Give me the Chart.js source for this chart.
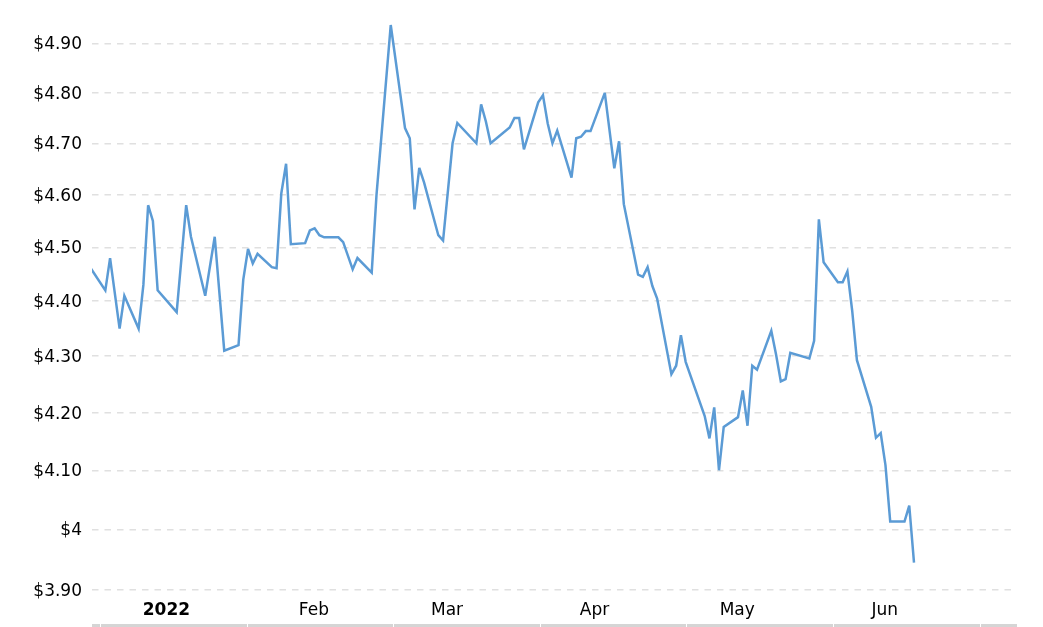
<!DOCTYPE html>
<html><head><meta charset="utf-8">
<script src="https://cdn.jsdelivr.net/npm/chart.js@4.4.1/dist/chart.umd.min.js"></script>
<style>html,body{margin:0;padding:0;background:#fff}#wrap{width:1043px;height:627px}canvas{display:block}</style>
</head><body><div id="wrap"><canvas id="c" width="1043" height="627"></canvas></div>
<script>
const dates = [
'2021-12-17','2021-12-20','2021-12-21','2021-12-23','2021-12-24','2021-12-27','2021-12-28','2021-12-29','2021-12-30','2021-12-31',
'2022-01-04','2022-01-06','2022-01-07','2022-01-10','2022-01-12','2022-01-14','2022-01-17','2022-01-18','2022-01-19','2022-01-20',
'2022-01-21','2022-01-24','2022-01-25','2022-01-26','2022-01-27','2022-01-28','2022-01-31','2022-02-01','2022-02-02','2022-02-03',
'2022-02-04','2022-02-07','2022-02-08','2022-02-10','2022-02-11','2022-02-14','2022-02-15','2022-02-18','2022-02-21','2022-02-22',
'2022-02-23','2022-02-24','2022-02-25','2022-02-28','2022-03-01','2022-03-03','2022-03-04','2022-03-08','2022-03-09','2022-03-10',
'2022-03-11','2022-03-15','2022-03-16','2022-03-17','2022-03-18','2022-03-21','2022-03-22','2022-03-23','2022-03-24','2022-03-25',
'2022-03-28','2022-03-29','2022-03-30','2022-03-31','2022-04-01','2022-04-04','2022-04-06','2022-04-07','2022-04-08','2022-04-11',
'2022-04-12','2022-04-13','2022-04-14','2022-04-15','2022-04-18','2022-04-19','2022-04-20','2022-04-21','2022-04-25','2022-04-26',
'2022-04-27','2022-04-28','2022-04-29','2022-05-02','2022-05-03','2022-05-04','2022-05-05','2022-05-06','2022-05-09','2022-05-10',
'2022-05-11','2022-05-12','2022-05-13','2022-05-17','2022-05-18','2022-05-19','2022-05-20','2022-05-23','2022-05-24','2022-05-25',
'2022-05-26','2022-05-27','2022-05-30','2022-05-31','2022-06-01','2022-06-02','2022-06-03','2022-06-06','2022-06-07','2022-06-08'
];
const prices = [
4.46,4.42,4.48,4.35,4.41,4.35,4.43,4.58,4.55,4.42,
4.38,4.58,4.52,4.41,4.52,4.31,4.32,4.44,4.497,4.47,
4.488,4.463,4.461,4.603,4.66,4.506,4.508,4.532,4.536,4.523,
4.519,4.519,4.51,4.459,4.48,4.453,4.599,4.938,4.73,4.71,
4.572,4.652,4.624,4.523,4.513,4.70,4.74,4.70,4.777,4.743,
4.70,4.731,4.75,4.75,4.688,4.781,4.795,4.739,4.70,4.725,
4.633,4.71,4.713,4.724,4.724,4.80,4.651,4.704,4.582,4.449,
4.445,4.463,4.428,4.405,4.268,4.283,4.338,4.29,4.194,4.155,
4.209,4.10,4.175,4.192,4.239,4.177,4.283,4.276,4.346,4.303,
4.255,4.259,4.306,4.296,4.328,4.553,4.472,4.435,4.435,4.455,
4.383,4.293,4.21,4.156,4.164,4.109,4.013,4.013,4.04,3.945
];
const monthTickDates = ['2022-01-01','2022-02-01','2022-03-01','2022-04-01','2022-05-01','2022-06-01'];
const monthTickLabels = ['2022','Feb','Mar','Apr','May','Jun'];
const priceTickValues = [3.9,4.0,4.1,4.2,4.3,4.4,4.5,4.6,4.7,4.8,4.9];
const priceTickLabels = ['$3.90','$4','$4.10','$4.20','$4.30','$4.40','$4.50','$4.60','$4.70','$4.80','$4.90'];

const DAY0 = Date.UTC(2022,0,1);
function dayOf(s){const p=s.split('-').map(Number);return (Date.UTC(p[0],p[1]-1,p[2])-DAY0)/864e5;}
const points = dates.map((s,i)=>({x:dayOf(s), y:prices[i]}));

const FONT = "'DejaVu Sans', Verdana, sans-serif";

const bottomBar = {
  id:'bottomBar',
  beforeDatasetsDraw(chart){ chart.ctx.miterLimit = 4; },
  afterDatasetsDraw(chart){ chart.ctx.miterLimit = 10; },
  afterDraw(chart){
    const ctx = chart.ctx, a = chart.chartArea;
    ctx.save();
    ctx.fillStyle = '#d5d5d5';
    ctx.fillRect(a.left, 624, a.right + 5 - a.left, 3);
    ctx.fillStyle = '#fff';
    for (let x = a.left + 8; x < a.right + 5; x += 146.6) ctx.fillRect(Math.round(x), 624, 1, 3);
    ctx.restore();
  }
};

new Chart(document.getElementById('c'), {
  type:'line',
  data:{datasets:[{data:points, borderColor:'#5b9bd5', borderWidth:2.5, pointRadius:0, tension:0, fill:false}]},
  options:{
    responsive:false, animation:false, devicePixelRatio:1,
    layout:{padding:{top:20,right:31,left:0,bottom:0}},
    plugins:{legend:{display:false}, tooltip:{enabled:false}},
    scales:{
      x:{type:'linear', min:-14.8, max:178.6,
        afterBuildTicks: s => { s.ticks = monthTickDates.map(d=>({value:dayOf(d)})); },
        afterFit: s => { s.height = 37; },
        grid:{display:false, drawTicks:false}, border:{display:false},
        ticks:{autoSkip:false, maxRotation:0, padding:10.5, labelOffset:4, color:'#000',
          callback:(v,i)=>monthTickLabels[i],
          font: ctx => ({family:FONT, size:17, weight: ctx.index===0?'bold':'normal'})}
      },
      y:{type:'logarithmic', min:3.9, max:4.948,
        afterBuildTicks: s => { s.ticks = priceTickValues.map(v=>({value:v})); },
        afterFit: s => { s.width = 92; },
        grid:{color:'#e0e0e0', lineWidth:1.5, drawTicks:false},
        border:{display:false, dash:[6.5,6]},
        ticks:{padding:10, labelOffset:1.5, color:'#000', font:{family:FONT,size:17}, callback:(v,i)=>priceTickLabels[i]}
      }
    }
  },
  plugins:[bottomBar]
});
</script>
</body></html>
